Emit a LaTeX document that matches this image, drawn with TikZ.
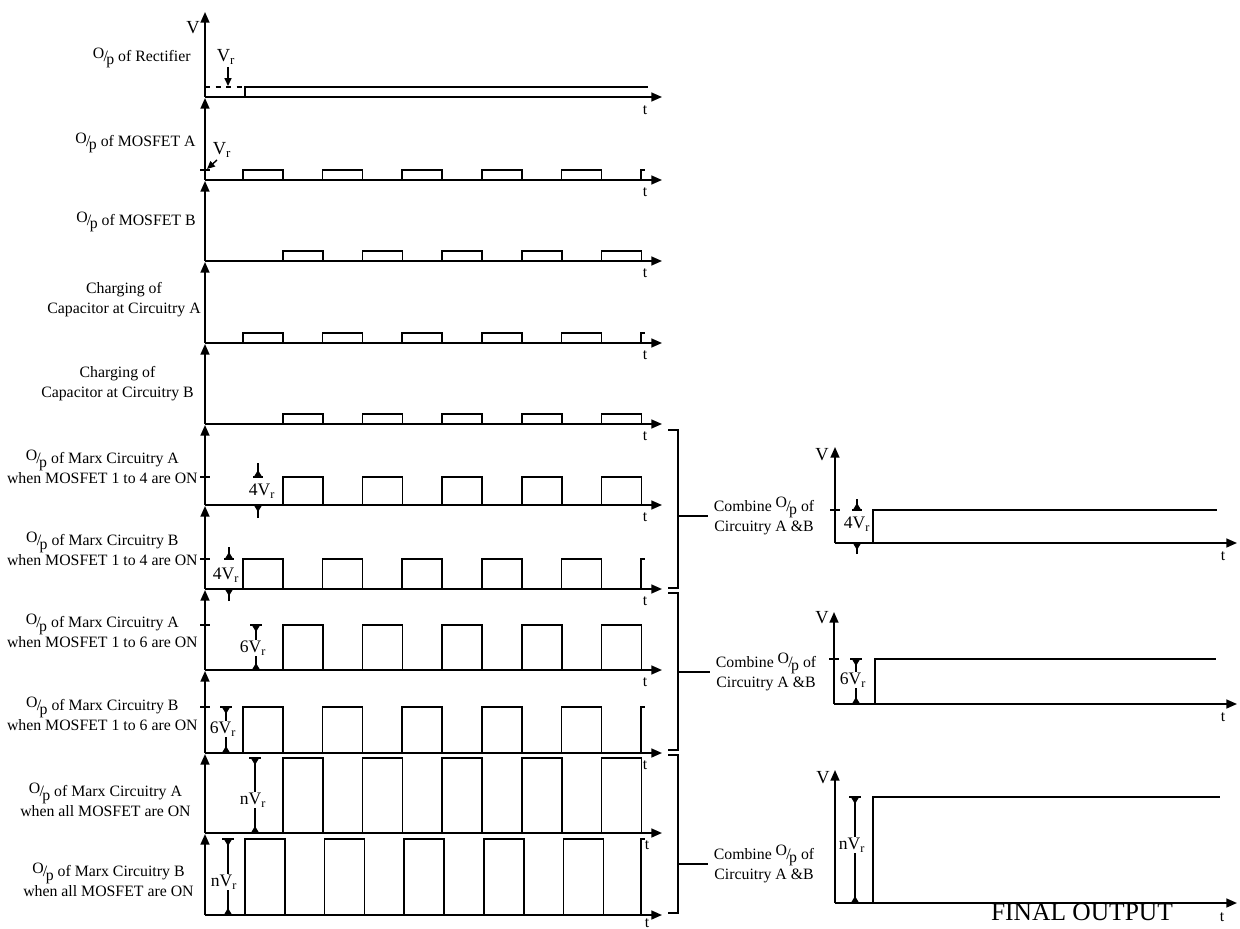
\documentclass[tikz,border=0pt]{standalone}
\usepackage{fontspec}
\setmainfont{Liberation Serif}
\usetikzlibrary{arrows.meta}
\newcommand{\Op}{\raisebox{.45ex}{O}\kern-.05em/\kern-.1em\raisebox{-.5ex}{p}}
\newcommand{\Vr}{V\textsubscript{r}}
\tikzset{
  sig/.style={line width=1pt, line join=miter},
  hax/.style={line width=1pt, -{Triangle[length=6pt,width=5pt]}},
  vax/.style={line width=1pt, -{Triangle[length=6pt,width=5pt]}},
  lab/.style={font=\fontsize{9}{11.5}\selectfont, align=center, inner sep=0pt},
  tlab/.style={font=\fontsize{9}{10}\selectfont, inner sep=0pt},
  vlab/.style={font=\fontsize{10.5}{12}\selectfont, inner sep=0pt},
  amp/.style={font=\fontsize{10}{12}\selectfont, inner sep=0.6pt, fill=white},
  dimone/.style={line width=0.8pt, -{Triangle[reversed,length=4pt,width=4.5pt]}},
  dimtwo/.style={line width=0.8pt, {Triangle[reversed,length=4pt,width=4.5pt]}-{Triangle[reversed,length=4pt,width=4.5pt]}},
  thin/.style={line width=0.8pt},
  ptr/.style={line width=0.8pt, -{Triangle[length=4.5pt,width=4pt]}},
}
% #1 base, #2 arrow top, #3 pulse top, #4 first pulse x, #5 partial (1/0), #6 name
\newcommand{\panel}[6]{%
  \draw[vax] (205,#1) -- (205,#2);
  \draw[hax] (205,#1) -- (662,#1);
  \foreach \k in {0,...,4}{%
    \pgfmathsetmacro\xa{#4+79.6*\k}%
    \draw[sig] (\xa,#1) -- (\xa,#3) -- (\xa+40,#3) -- (\xa+40,#1);}
  \ifnum#5=1 \draw[sig] (641,#1) -- (641,#3) -- (645,#3);\fi
}
\begin{document}
\begin{tikzpicture}[x=0.02cm,y=-0.02cm]
\useasboundingbox (0,0) rectangle (1240,929);
% ---------- panel 1: rectifier
\draw[vax] (205,97) -- (205,12);
\node[vlab] (V0) at (193,28) {V};
\draw[hax] (205,97) -- (662,97);
\node[tlab] (t1) at (645,110) {t};
\draw[sig] (245,97) -- (245,87) -- (648,87);
\draw[thin,dashed] (205,87) -- (245,87);
\node[vlab] (vr1) at (226,57) {\Vr};
\draw[ptr] (228,67) -- (228,86);
\node[lab,anchor=east] (L1) at (191,58) {\Op\ of Rectifier};
% ---------- panels 2-5
\panel{180}{98}{170}{243}{1}{2}
\node[tlab] (t2) at (645,192) {t};
\draw[thin] (200,170) -- (210,170);
\node[vlab] (vr2) at (222,150) {\Vr};
\draw[ptr] (217,160) -- (207,169);
\node[lab,anchor=east] (L2) at (196,143) {\Op\ of MOSFET A};
\panel{261}{181}{251}{283}{0}{3}
\node[tlab] (t3) at (645,273) {t};
\node[lab,anchor=east] (L3) at (196,222) {\Op\ of MOSFET B};
\panel{343}{262}{333}{243}{1}{4}
\node[tlab] (t4) at (645,355) {t};
\node[lab,anchor=east] (L4) at (201,300) {Charging of\\Capacitor at Circuitry A};
\panel{424}{344}{414}{283}{0}{5}
\node[tlab] (t5) at (645,436) {t};
\node[lab,anchor=east] (L5) at (194,384) {Charging of\\Capacitor at Circuitry B};
% ---------- panel 6
\panel{505}{425}{477}{283}{0}{6}
\node[tlab] (t6) at (645,517) {t};
\draw[thin] (200,477) -- (210,477);
\draw[dimone] (258,463) -- (258,477);
\draw[thin] (253,477) -- (263,477);
\draw[dimone] (258,518) -- (258,505);
\node[amp,fill=none] (a6) at (262,491) {4\Vr};
\node[lab,anchor=east] (L6) at (198,467) {\Op\ of Marx Circuitry A\\when MOSFET 1 to 4 are ON};
% ---------- panel 7
\panel{589}{506}{559}{243}{1}{7}
\node[tlab] (t7) at (645,601) {t};
\draw[thin] (200,559) -- (210,559);
\draw[dimone] (229,547) -- (229,559);
\draw[thin] (224,559) -- (234,559);
\draw[dimone] (229,601) -- (229,589);
\node[amp,fill=none] (a7) at (226,575) {4\Vr};
\node[lab,anchor=east] (L7) at (198,549) {\Op\ of Marx Circuitry B\\when MOSFET 1 to 4 are ON};
% ---------- panel 8
\panel{670}{590}{625}{283}{0}{8}
\node[tlab] (t8) at (645,682) {t};
\draw[thin] (200,625) -- (210,625);
\draw[dimtwo] (256,625) -- (256,670);
\draw[thin] (250,625) -- (262,625);
\node[amp] (a8) at (253,648) {6\Vr};
\node[lab,anchor=east] (L8) at (198,631) {\Op\ of Marx Circuitry A\\when MOSFET 1 to 6 are ON};
% ---------- panel 9
\panel{753}{671}{707}{243}{1}{9}
\node[tlab] (t9) at (645,765) {t};
\draw[thin] (200,707) -- (210,707);
\draw[dimtwo] (226,707) -- (226,753);
\draw[thin] (220,707) -- (232,707);
\node[amp] (a9) at (223,729) {6\Vr};
\node[lab,anchor=east] (L9) at (198,714) {\Op\ of Marx Circuitry B\\when MOSFET 1 to 6 are ON};
% ---------- panel 10
\panel{833}{754}{758}{283}{0}{10}
\node[tlab] (t10) at (647,845) {t};
\draw[dimtwo] (255,758) -- (255,833);
\draw[thin] (249,758) -- (261,758);
\node[amp] (a10) at (253,800) {n\Vr};
\node[lab,anchor=east] (L10) at (191,800) {\Op\ of Marx Circuitry A\\when all MOSFET are ON};
% ---------- panel 11
\panel{915}{834}{839}{245}{1}{11}
\node[tlab] (t11) at (647,923) {t};
\draw[dimtwo] (228,839) -- (228,915);
\draw[thin] (222,839) -- (234,839);
\node[amp] (a11) at (224,882) {n\Vr};
\node[lab,anchor=east] (L11) at (194,880) {\Op\ of Marx Circuitry B\\when all MOSFET are ON};
% ---------- brackets
\draw[sig] (668,430) -- (678,430) -- (678,588) -- (668,588);
\draw[sig] (668,593) -- (678,593) -- (678,750) -- (668,750);
\draw[sig] (668,755) -- (678,755) -- (678,913) -- (668,913);
\node[lab] (C1) at (764,516) {Combine \Op\ of\\Circuitry A \&B};
\node[lab] (C2) at (766,672) {Combine \Op\ of\\Circuitry A \&B};
\node[lab] (C3) at (764,864) {Combine \Op\ of\\Circuitry A \&B};
\draw[sig] (C1.west -| 678,0) -- ([xshift=-3pt]C1.west);
\draw[sig] (C2.west -| 678,0) -- ([xshift=-3pt]C2.west);
\draw[sig] (C3.west -| 678,0) -- ([xshift=-3pt]C3.west);
% ---------- right plot 1
\draw[vax] (835,543) -- (835,447);
\node[vlab] (RV1) at (822,455) {V};
\draw[hax] (835,543) -- (1237,543);
\node[tlab] (Rt1) at (1223,556) {t};
\draw[sig] (873,543) -- (873,510) -- (1217,510);
\draw[thin] (830,510) -- (840,510);
\draw[dimone] (857,499) -- (857,510);
\draw[thin] (852,510) -- (862,510);
\draw[dimone] (857,554) -- (857,543);
\node[amp,fill=none] (ra1) at (857,524) {4\Vr};
% ---------- right plot 2
\draw[vax] (834,704) -- (834,612);
\node[vlab] (RV2) at (822,618) {V};
\draw[hax] (834,704) -- (1237,704);
\node[tlab] (Rt2) at (1223,717) {t};
\draw[sig] (875,704) -- (875,659) -- (1216,659);
\draw[thin] (829,659) -- (839,659);
\draw[dimtwo] (856,659) -- (856,704);
\draw[thin] (850,659) -- (862,659);
\node[amp] (ra2) at (853,680) {6\Vr};
% ---------- right plot 3
\draw[vax] (835,903) -- (835,770);
\node[vlab] (RV3) at (823,778) {V};
\draw[hax] (835,903) -- (1237,903);
\node[tlab] (Rt3) at (1222,917) {t};
\draw[sig] (873,903) -- (873,797) -- (1220,797);
\draw[dimtwo] (855,797) -- (855,903);
\draw[thin] (849,797) -- (861,797);
\node[amp] (ra3) at (852,845) {n\Vr};
\node[font=\fontsize{14.5}{16}\selectfont, inner sep=0pt] (FO) at (1082,912) {FINAL OUTPUT};
\end{tikzpicture}
\end{document}
